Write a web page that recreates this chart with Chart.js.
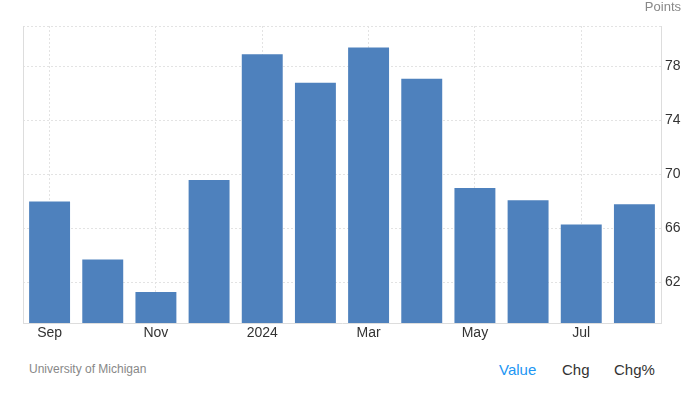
<!DOCTYPE html>
<html><head><meta charset="utf-8">
<script src="https://cdn.jsdelivr.net/npm/chart.js@4.4.0/dist/chart.umd.min.js"></script>
<style>
html,body{margin:0;padding:0;background:#fff;font-family:"Liberation Sans",Arial,sans-serif;}
#wrap{position:relative;width:692px;height:394px;}
#c{position:absolute;left:0;top:0;}
.t{position:absolute;white-space:nowrap;}
</style></head><body>
<div id="wrap">
<canvas id="c" width="692" height="345"></canvas>
<div class="t" style="right:11px;top:-1px;font-size:13px;color:#888;">Points</div>
<div class="t" style="left:29px;top:362px;font-size:12px;color:#888;">University of Michigan</div>
<div class="t" style="left:499px;top:361px;font-size:15px;color:#2196f3;">Value</div>
<div class="t" style="left:562px;top:361px;font-size:15px;color:#333;">Chg</div>
<div class="t" style="left:614px;top:361px;font-size:15px;color:#333;">Chg%</div>
</div>
<script>
const categories = ["Sep","Oct","Nov","Dec","2024","Feb","Mar","Apr","May","Jun","Jul","Aug"];
const values = [68.0, 63.7, 61.3, 69.6, 78.9, 76.8, 79.4, 77.1, 69.0, 68.1, 66.3, 67.8];
const yTicks = [62, 66, 70, 74, 78, 81];
const yMin = 59, yMax = 81;

const leftBorder = {
  id:'leftBorder',
  afterDraw(chart){
    const {ctx, chartArea:a} = chart;
    ctx.save(); ctx.strokeStyle='#dddddd'; ctx.lineWidth=1;
    ctx.beginPath(); ctx.moveTo(a.left+0.5, a.top); ctx.lineTo(a.left+0.5, a.bottom); ctx.stroke();
    ctx.restore();
  }
};

new Chart(document.getElementById('c'), {
  type:'bar',
  data:{labels:categories, datasets:[{data:values, backgroundColor:'#4e81bd', categoryPercentage:1, barPercentage:0.77}]},
  options:{
    responsive:false, animation:false,
    layout:{padding:{left:23, top:26, right:0, bottom:0}},
    plugins:{legend:{display:false}, tooltip:{enabled:false}},
    scales:{
      x:{
        grid:{offset:false, drawTicks:false, color:(c)=> (c.index%2===0 ? '#e3e3e3' : 'rgba(0,0,0,0)')},
        border:{display:true, color:'#dddddd', dash:[2,2]},
        ticks:{autoSkip:false, maxRotation:0, padding:2, color:'#333', font:{family:'"Liberation Sans", Arial', size:14},
          callback:function(v,i){ return i%2===0 ? this.getLabelForValue(v) : ''; }},
        afterFit(s){ s.height = 22; }
      },
      y:{
        position:'right', min:yMin, max:yMax,
        afterBuildTicks(s){ s.ticks = yTicks.map(v=>({value:v})); },
        grid:{drawTicks:false, color:'#e3e3e3'},
        border:{display:true, color:'#dddddd', dash:[2,2]},
        ticks:{padding:4, color:'#333', font:{family:'"Liberation Sans", Arial', size:14},
          callback:(v)=> v===81 ? '' : String(v)},
        afterFit(s){ s.width = 31; }
      }
    }
  },
  plugins:[leftBorder]
});
</script>
</body></html>
